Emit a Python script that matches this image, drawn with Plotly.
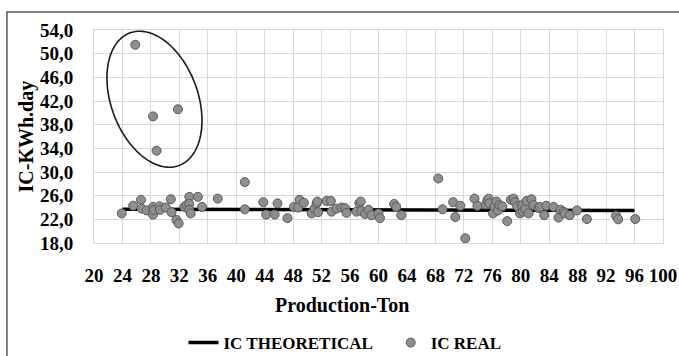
import numpy as np
import plotly.graph_objects as go

# ---- data ----
theo_x = [24, 96]
theo_y = [23.7, 23.5]

real_x = [25.8, 28.3, 31.8, 28.8,
          23.9, 25.5, 26.6, 26.7, 27.4, 28.3, 28.3, 28.4, 29.2, 29.3, 30.1, 30.8, 30.9, 31.6, 31.9,
          32.7, 33.0, 33.4, 33.4, 33.4, 33.6, 34.6, 35.2, 37.4, 41.2, 41.2, 43.8, 44.2, 45.4, 45.8,
          47.2, 48.1, 48.7, 48.9, 49.5, 50.6, 51.0, 51.3, 51.4, 51.5, 52.7, 53.3, 53.4, 54.1, 54.8,
          55.3, 55.5, 56.9, 57.3, 57.5, 57.6, 58.1, 58.6, 59.0, 60.0, 60.2, 62.2, 62.5, 63.2,
          68.4, 69.0, 70.5, 70.8, 71.5, 72.2, 73.5, 73.9, 75.1, 75.3, 75.5, 75.6, 76.1, 76.3, 76.6,
          76.8, 77.0, 77.4, 78.1, 78.6, 79.0, 79.2, 79.5, 79.9, 80.2, 80.3, 80.6, 80.8, 81.1, 81.5,
          81.8, 82.5, 82.7, 83.3, 83.6, 84.6, 85.3, 85.6, 86.0, 86.2, 86.9, 87.9, 89.3, 93.4, 93.7, 96.1]
real_y = [51.5, 39.4, 40.6, 33.6,
          23.0, 24.3, 25.3, 23.8, 23.5, 24.1, 22.8, 23.6, 24.2, 23.6, 24.0, 25.4, 23.2, 21.9, 21.3,
          24.1, 24.4, 25.8, 24.6, 23.6, 23.0, 25.8, 24.1, 25.5, 28.3, 23.7, 24.9, 22.8, 22.8, 24.7,
          22.2, 24.1, 24.0, 25.3, 24.8, 23.0, 23.8, 24.7, 25.0, 23.2, 25.1, 25.1, 23.3, 23.8, 24.0,
          23.9, 23.1, 23.3, 24.7, 25.0, 23.4, 22.9, 23.6, 22.7, 23.0, 22.2, 24.6, 24.1, 22.7,
          28.9, 23.7, 24.9, 22.4, 24.3, 18.8, 25.5, 24.3, 24.5, 25.2, 25.5, 24.7, 23.0, 24.2, 25.0,
          23.5, 24.4, 24.2, 21.7, 25.3, 25.5, 24.9, 24.2, 23.0, 24.4, 23.3, 23.8, 25.1, 23.0, 25.4,
          24.4, 23.9, 24.1, 22.7, 24.3, 24.1, 22.3, 23.6, 23.3, 23.0, 22.7, 23.5, 22.05, 22.6, 22.0, 22.05]

x_ticks = list(range(20, 101, 4))
y_ticks = list(range(18, 55, 4))

FONT = "Liberation Serif, Times New Roman, serif"

fig = go.Figure()
fig.add_trace(go.Scatter(x=theo_x, y=theo_y, mode="lines",
                         name="<b>IC THEORETICAL</b>\u00a0\u00a0\u00a0",
                         line=dict(color="black", width=3.5)))
fig.add_trace(go.Scatter(x=real_x, y=real_y, mode="markers", name="<b>IC REAL</b>",
                         marker=dict(size=9, color="#8e8e8e",
                                     line=dict(color="#5a5a5a", width=1))))

# ellipse around outliers (pixel-space params converted to data units)
px_per_x = 569 / 80.0
px_per_y = 213 / 36.0
cx, cy = 28.5, 42.3
a_px, b_px, theta = 70.7, 43.4, np.deg2rad(69.7)
t = np.linspace(0, 2 * np.pi, 120)
dx = a_px * np.cos(t) * np.cos(theta) - b_px * np.sin(t) * np.sin(theta)
dy = a_px * np.cos(t) * np.sin(theta) + b_px * np.sin(t) * np.cos(theta)
ex = cx + dx / px_per_x
ey = cy - dy / px_per_y
path = "M " + " L ".join(f"{x:.3f},{y:.3f}" for x, y in zip(ex, ey)) + " Z"
fig.add_shape(type="path", path=path, xref="x", yref="y",
              line=dict(color="#1a1a1a", width=1.6))

# outer frame
fig.add_shape(type="rect", xref="paper", yref="paper",
              x0=-0.153, x1=1.2, y0=-0.7, y1=1.085,
              line=dict(color="#555555", width=1.5), layer="below")

fig.add_annotation(text="<b>Production-Ton</b>", xref="paper", yref="paper",
                   x=(342 - 94) / 569, y=(243 - 305) / 213, showarrow=False,
                   font=dict(family=FONT, size=20, color="black"),
                   xanchor="center", yanchor="middle")
fig.add_annotation(text="<b>IC-KWh.day</b>", xref="paper", yref="paper",
                   x=(26 - 94) / 569, y=0.5, showarrow=False, textangle=-90,
                   font=dict(family=FONT, size=20, color="black"),
                   xanchor="center", yanchor="middle")

fig.update_layout(
    width=679, height=356,
    margin=dict(l=94, r=16, t=30, b=113, autoexpand=False),
    paper_bgcolor="white", plot_bgcolor="white",
    font=dict(family=FONT, color="black"),
    showlegend=True,
    legend=dict(orientation="h", x=(345 - 94) / 569, xanchor="center",
                y=(243 - 343) / 213, yanchor="middle",
                font=dict(family=FONT, size=17, color="black"),
                itemwidth=30, tracegroupgap=0),
    xaxis=dict(range=[20, 100], tickvals=x_ticks, ticktext=[f"<b>{v}</b>" for v in x_ticks],
               showgrid=True, gridcolor="#d9d9d9", gridwidth=1, automargin=False,
               showline=True, linecolor="#d9d9d9", mirror=True, zeroline=False,
               tickfont=dict(family=FONT, size=19, color="black"),
               ticks="", ticklabelstandoff=15),
    yaxis=dict(range=[18, 54], tickvals=y_ticks, automargin=False,
               ticktext=[f"<b>{v:.1f}</b>".replace(".", ",") for v in y_ticks],
               showgrid=True, gridcolor="#d9d9d9", gridwidth=1,
               showline=True, linecolor="#d9d9d9", mirror=True, zeroline=False,
               tickfont=dict(family=FONT, size=19, color="black"),
               ticks="", ticklabelstandoff=16),
)

fig.write_html("out.html")
